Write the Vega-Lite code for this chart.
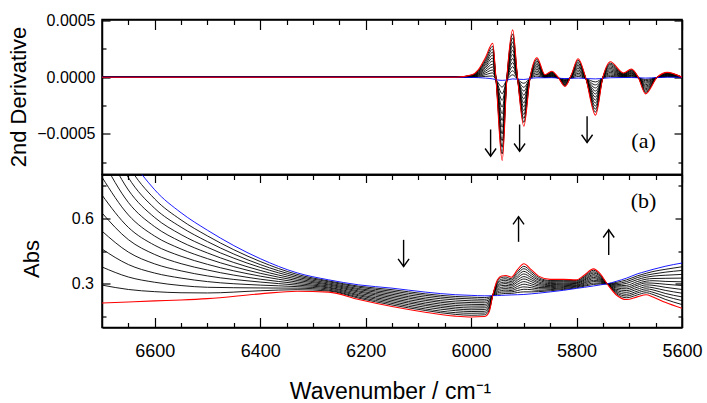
{
"$schema": "https://vega.github.io/schema/vega-lite/v6.json",
"background": "white",
"padding": {"left": 6, "top": 11.5, "right": 5, "bottom": 5},
"datasets": {
"deriv": [
{"s":0,"x":6700,"y":0},{"s":0,"x":6030,"y":0},{"s":0,"x":5998,"y":-2e-6},{"s":0,"x":5986,"y":-4e-6},{"s":0,"x":5973,"y":-8e-6},{"s":0,"x":5959,"y":-15e-6},{"s":0,"x":5953,"y":-22e-6},{"s":0,"x":5941,"y":-28e-6},{"s":0,"x":5932,"y":-25e-6},{"s":0,"x":5921,"y":-15e-6},{"s":0,"x":5912,"y":-18e-6},{"s":0,"x":5900,"y":-20e-6},{"s":0,"x":5888,"y":-12e-6},{"s":0,"x":5875,"y":-5e-6},{"s":0,"x":5860,"y":-5e-6},{"s":0,"x":5847,"y":-4e-6},{"s":0,"x":5835,"y":-8e-6},{"s":0,"x":5822,"y":-12e-6},{"s":0,"x":5810,"y":-10e-6},{"s":0,"x":5797,"y":-8e-6},{"s":0,"x":5783,"y":-12e-6},{"s":0,"x":5764,"y":-15e-6},{"s":0,"x":5750,"y":-10e-6},{"s":0,"x":5736,"y":-5e-6},{"s":0,"x":5711,"y":-3e-6},{"s":0,"x":5696,"y":-3e-6},{"s":0,"x":5683,"y":-5e-6},{"s":0,"x":5669,"y":-8e-6},{"s":0,"x":5647,"y":-3e-6},{"s":0,"x":5628,"y":0},{"s":0,"x":5600,"y":0},
{"s":1,"x":6700,"y":0},{"s":1,"x":6030,"y":0},{"s":1,"x":5998,"y":0},{"s":1,"x":5986,"y":2e-6},{"s":1,"x":5973,"y":7e-6},{"s":1,"x":5959,"y":11e-6},{"s":1,"x":5953,"y":-20e-6},{"s":1,"x":5941,"y":-87e-6},{"s":1,"x":5932,"y":-23e-6},{"s":1,"x":5921,"y":21e-6},{"s":1,"x":5912,"y":-17e-6},{"s":1,"x":5900,"y":-54e-6},{"s":1,"x":5888,"y":-11e-6},{"s":1,"x":5875,"y":10e-6},{"s":1,"x":5860,"y":-3e-6},{"s":1,"x":5847,"y":1e-6},{"s":1,"x":5835,"y":-7e-6},{"s":1,"x":5822,"y":-18e-6},{"s":1,"x":5810,"y":-8e-6},{"s":1,"x":5797,"y":6e-6},{"s":1,"x":5783,"y":-11e-6},{"s":1,"x":5764,"y":-42e-6},{"s":1,"x":5750,"y":-9e-6},{"s":1,"x":5736,"y":7e-6},{"s":1,"x":5711,"y":0},{"s":1,"x":5696,"y":3e-6},{"s":1,"x":5683,"y":-5e-6},{"s":1,"x":5669,"y":-20e-6},{"s":1,"x":5647,"y":-3e-6},{"s":1,"x":5628,"y":4e-6},{"s":1,"x":5600,"y":0},
{"s":2,"x":6700,"y":0},{"s":2,"x":6030,"y":0},{"s":2,"x":5998,"y":2e-6},{"s":2,"x":5986,"y":8e-6},{"s":2,"x":5973,"y":22e-6},{"s":2,"x":5959,"y":38e-6},{"s":2,"x":5953,"y":-18e-6},{"s":2,"x":5941,"y":-146e-6},{"s":2,"x":5932,"y":-21e-6},{"s":2,"x":5921,"y":57e-6},{"s":2,"x":5912,"y":-15e-6},{"s":2,"x":5900,"y":-89e-6},{"s":2,"x":5888,"y":-10e-6},{"s":2,"x":5875,"y":24e-6},{"s":2,"x":5860,"y":0},{"s":2,"x":5847,"y":5e-6},{"s":2,"x":5835,"y":-7e-6},{"s":2,"x":5822,"y":-24e-6},{"s":2,"x":5810,"y":-5e-6},{"s":2,"x":5797,"y":21e-6},{"s":2,"x":5783,"y":-10e-6},{"s":2,"x":5764,"y":-68e-6},{"s":2,"x":5750,"y":-8e-6},{"s":2,"x":5736,"y":18e-6},{"s":2,"x":5711,"y":4e-6},{"s":2,"x":5696,"y":10e-6},{"s":2,"x":5683,"y":-4e-6},{"s":2,"x":5669,"y":-31e-6},{"s":2,"x":5647,"y":-3e-6},{"s":2,"x":5628,"y":7e-6},{"s":2,"x":5600,"y":0},
{"s":3,"x":6700,"y":0},{"s":3,"x":6030,"y":0},{"s":3,"x":5998,"y":4e-6},{"s":3,"x":5986,"y":14e-6},{"s":3,"x":5973,"y":37e-6},{"s":3,"x":5959,"y":64e-6},{"s":3,"x":5953,"y":-17e-6},{"s":3,"x":5941,"y":-205e-6},{"s":3,"x":5932,"y":-19e-6},{"s":3,"x":5921,"y":93e-6},{"s":3,"x":5912,"y":-14e-6},{"s":3,"x":5900,"y":-123e-6},{"s":3,"x":5888,"y":-9e-6},{"s":3,"x":5875,"y":39e-6},{"s":3,"x":5860,"y":2e-6},{"s":3,"x":5847,"y":10e-6},{"s":3,"x":5835,"y":-6e-6},{"s":3,"x":5822,"y":-30e-6},{"s":3,"x":5810,"y":-3e-6},{"s":3,"x":5797,"y":35e-6},{"s":3,"x":5783,"y":-9e-6},{"s":3,"x":5764,"y":-95e-6},{"s":3,"x":5750,"y":-7e-6},{"s":3,"x":5736,"y":30e-6},{"s":3,"x":5711,"y":7e-6},{"s":3,"x":5696,"y":16e-6},{"s":3,"x":5683,"y":-4e-6},{"s":3,"x":5669,"y":-43e-6},{"s":3,"x":5647,"y":-2e-6},{"s":3,"x":5628,"y":11e-6},{"s":3,"x":5600,"y":0},
{"s":4,"x":6700,"y":0},{"s":4,"x":6030,"y":0},{"s":4,"x":5998,"y":6e-6},{"s":4,"x":5986,"y":20e-6},{"s":4,"x":5973,"y":52e-6},{"s":4,"x":5959,"y":90e-6},{"s":4,"x":5953,"y":-15e-6},{"s":4,"x":5941,"y":-264e-6},{"s":4,"x":5932,"y":-17e-6},{"s":4,"x":5921,"y":129e-6},{"s":4,"x":5912,"y":-12e-6},{"s":4,"x":5900,"y":-158e-6},{"s":4,"x":5888,"y":-8e-6},{"s":4,"x":5875,"y":54e-6},{"s":4,"x":5860,"y":4e-6},{"s":4,"x":5847,"y":15e-6},{"s":4,"x":5835,"y":-5e-6},{"s":4,"x":5822,"y":-35e-6},{"s":4,"x":5810,"y":0},{"s":4,"x":5797,"y":49e-6},{"s":4,"x":5783,"y":-8e-6},{"s":4,"x":5764,"y":-122e-6},{"s":4,"x":5750,"y":-7e-6},{"s":4,"x":5736,"y":42e-6},{"s":4,"x":5711,"y":10e-6},{"s":4,"x":5696,"y":22e-6},{"s":4,"x":5683,"y":-3e-6},{"s":4,"x":5669,"y":-54e-6},{"s":4,"x":5647,"y":-2e-6},{"s":4,"x":5628,"y":14e-6},{"s":4,"x":5600,"y":0},
{"s":5,"x":6700,"y":0},{"s":5,"x":6030,"y":0},{"s":5,"x":5998,"y":8e-6},{"s":5,"x":5986,"y":26e-6},{"s":5,"x":5973,"y":67e-6},{"s":5,"x":5959,"y":116e-6},{"s":5,"x":5953,"y":-13e-6},{"s":5,"x":5941,"y":-323e-6},{"s":5,"x":5932,"y":-15e-6},{"s":5,"x":5921,"y":165e-6},{"s":5,"x":5912,"y":-11e-6},{"s":5,"x":5900,"y":-192e-6},{"s":5,"x":5888,"y":-7e-6},{"s":5,"x":5875,"y":68e-6},{"s":5,"x":5860,"y":6e-6},{"s":5,"x":5847,"y":19e-6},{"s":5,"x":5835,"y":-5e-6},{"s":5,"x":5822,"y":-41e-6},{"s":5,"x":5810,"y":3e-6},{"s":5,"x":5797,"y":63e-6},{"s":5,"x":5783,"y":-7e-6},{"s":5,"x":5764,"y":-148e-6},{"s":5,"x":5750,"y":-6e-6},{"s":5,"x":5736,"y":54e-6},{"s":5,"x":5711,"y":14e-6},{"s":5,"x":5696,"y":29e-6},{"s":5,"x":5683,"y":-3e-6},{"s":5,"x":5669,"y":-66e-6},{"s":5,"x":5647,"y":-2e-6},{"s":5,"x":5628,"y":18e-6},{"s":5,"x":5600,"y":0},
{"s":6,"x":6700,"y":0},{"s":6,"x":6030,"y":0},{"s":6,"x":5998,"y":10e-6},{"s":6,"x":5986,"y":32e-6},{"s":6,"x":5973,"y":82e-6},{"s":6,"x":5959,"y":143e-6},{"s":6,"x":5953,"y":-11e-6},{"s":6,"x":5941,"y":-383e-6},{"s":6,"x":5932,"y":-13e-6},{"s":6,"x":5921,"y":202e-6},{"s":6,"x":5912,"y":-9e-6},{"s":6,"x":5900,"y":-227e-6},{"s":6,"x":5888,"y":-6e-6},{"s":6,"x":5875,"y":83e-6},{"s":6,"x":5860,"y":8e-6},{"s":6,"x":5847,"y":24e-6},{"s":6,"x":5835,"y":-4e-6},{"s":6,"x":5822,"y":-47e-6},{"s":6,"x":5810,"y":5e-6},{"s":6,"x":5797,"y":78e-6},{"s":6,"x":5783,"y":-6e-6},{"s":6,"x":5764,"y":-175e-6},{"s":6,"x":5750,"y":-5e-6},{"s":6,"x":5736,"y":66e-6},{"s":6,"x":5711,"y":17e-6},{"s":6,"x":5696,"y":35e-6},{"s":6,"x":5683,"y":-2e-6},{"s":6,"x":5669,"y":-78e-6},{"s":6,"x":5647,"y":-2e-6},{"s":6,"x":5628,"y":22e-6},{"s":6,"x":5600,"y":0},
{"s":7,"x":6700,"y":0},{"s":7,"x":6030,"y":0},{"s":7,"x":5998,"y":12e-6},{"s":7,"x":5986,"y":37e-6},{"s":7,"x":5973,"y":96e-6},{"s":7,"x":5959,"y":169e-6},{"s":7,"x":5953,"y":-9e-6},{"s":7,"x":5941,"y":-442e-6},{"s":7,"x":5932,"y":-10e-6},{"s":7,"x":5921,"y":238e-6},{"s":7,"x":5912,"y":-8e-6},{"s":7,"x":5900,"y":-261e-6},{"s":7,"x":5888,"y":-5e-6},{"s":7,"x":5875,"y":98e-6},{"s":7,"x":5860,"y":11e-6},{"s":7,"x":5847,"y":29e-6},{"s":7,"x":5835,"y":-3e-6},{"s":7,"x":5822,"y":-53e-6},{"s":7,"x":5810,"y":8e-6},{"s":7,"x":5797,"y":92e-6},{"s":7,"x":5783,"y":-5e-6},{"s":7,"x":5764,"y":-202e-6},{"s":7,"x":5750,"y":-4e-6},{"s":7,"x":5736,"y":77e-6},{"s":7,"x":5711,"y":20e-6},{"s":7,"x":5696,"y":41e-6},{"s":7,"x":5683,"y":-2e-6},{"s":7,"x":5669,"y":-89e-6},{"s":7,"x":5647,"y":-1e-6},{"s":7,"x":5628,"y":25e-6},{"s":7,"x":5600,"y":0},
{"s":8,"x":6700,"y":0},{"s":8,"x":6030,"y":0},{"s":8,"x":5998,"y":14e-6},{"s":8,"x":5986,"y":43e-6},{"s":8,"x":5973,"y":111e-6},{"s":8,"x":5959,"y":195e-6},{"s":8,"x":5953,"y":-7e-6},{"s":8,"x":5941,"y":-501e-6},{"s":8,"x":5932,"y":-8e-6},{"s":8,"x":5921,"y":274e-6},{"s":8,"x":5912,"y":-6e-6},{"s":8,"x":5900,"y":-295e-6},{"s":8,"x":5888,"y":-4e-6},{"s":8,"x":5875,"y":112e-6},{"s":8,"x":5860,"y":13e-6},{"s":8,"x":5847,"y":33e-6},{"s":8,"x":5835,"y":-3e-6},{"s":8,"x":5822,"y":-59e-6},{"s":8,"x":5810,"y":10e-6},{"s":8,"x":5797,"y":106e-6},{"s":8,"x":5783,"y":-4e-6},{"s":8,"x":5764,"y":-228e-6},{"s":8,"x":5750,"y":-3e-6},{"s":8,"x":5736,"y":89e-6},{"s":8,"x":5711,"y":24e-6},{"s":8,"x":5696,"y":48e-6},{"s":8,"x":5683,"y":-2e-6},{"s":8,"x":5669,"y":-101e-6},{"s":8,"x":5647,"y":-1e-6},{"s":8,"x":5628,"y":29e-6},{"s":8,"x":5600,"y":0},
{"s":9,"x":6700,"y":0},{"s":9,"x":6030,"y":0},{"s":9,"x":5998,"y":16e-6},{"s":9,"x":5986,"y":49e-6},{"s":9,"x":5973,"y":126e-6},{"s":9,"x":5959,"y":221e-6},{"s":9,"x":5953,"y":-6e-6},{"s":9,"x":5941,"y":-560e-6},{"s":9,"x":5932,"y":-6e-6},{"s":9,"x":5921,"y":310e-6},{"s":9,"x":5912,"y":-5e-6},{"s":9,"x":5900,"y":-330e-6},{"s":9,"x":5888,"y":-3e-6},{"s":9,"x":5875,"y":127e-6},{"s":9,"x":5860,"y":15e-6},{"s":9,"x":5847,"y":38e-6},{"s":9,"x":5835,"y":-2e-6},{"s":9,"x":5822,"y":-65e-6},{"s":9,"x":5810,"y":13e-6},{"s":9,"x":5797,"y":120e-6},{"s":9,"x":5783,"y":-3e-6},{"s":9,"x":5764,"y":-255e-6},{"s":9,"x":5750,"y":-2e-6},{"s":9,"x":5736,"y":101e-6},{"s":9,"x":5711,"y":27e-6},{"s":9,"x":5696,"y":54e-6},{"s":9,"x":5683,"y":-1e-6},{"s":9,"x":5669,"y":-112e-6},{"s":9,"x":5647,"y":-1e-6},{"s":9,"x":5628,"y":32e-6},{"s":9,"x":5600,"y":0},
{"s":10,"x":6700,"y":0},{"s":10,"x":6030,"y":0},{"s":10,"x":5998,"y":18e-6},{"s":10,"x":5986,"y":55e-6},{"s":10,"x":5973,"y":141e-6},{"s":10,"x":5959,"y":248e-6},{"s":10,"x":5953,"y":-4e-6},{"s":10,"x":5941,"y":-619e-6},{"s":10,"x":5932,"y":-4e-6},{"s":10,"x":5921,"y":346e-6},{"s":10,"x":5912,"y":-3e-6},{"s":10,"x":5900,"y":-364e-6},{"s":10,"x":5888,"y":-2e-6},{"s":10,"x":5875,"y":142e-6},{"s":10,"x":5860,"y":18e-6},{"s":10,"x":5847,"y":43e-6},{"s":10,"x":5835,"y":-1e-6},{"s":10,"x":5822,"y":-70e-6},{"s":10,"x":5810,"y":15e-6},{"s":10,"x":5797,"y":135e-6},{"s":10,"x":5783,"y":-2e-6},{"s":10,"x":5764,"y":-282e-6},{"s":10,"x":5750,"y":-2e-6},{"s":10,"x":5736,"y":113e-6},{"s":10,"x":5711,"y":30e-6},{"s":10,"x":5696,"y":60e-6},{"s":10,"x":5683,"y":-1e-6},{"s":10,"x":5669,"y":-124e-6},{"s":10,"x":5647,"y":-1e-6},{"s":10,"x":5628,"y":36e-6},{"s":10,"x":5600,"y":0},
{"s":11,"x":6700,"y":0},{"s":11,"x":6030,"y":0},{"s":11,"x":5998,"y":20e-6},{"s":11,"x":5986,"y":61e-6},{"s":11,"x":5973,"y":156e-6},{"s":11,"x":5959,"y":274e-6},{"s":11,"x":5953,"y":-2e-6},{"s":11,"x":5941,"y":-678e-6},{"s":11,"x":5932,"y":-2e-6},{"s":11,"x":5921,"y":382e-6},{"s":11,"x":5912,"y":-2e-6},{"s":11,"x":5900,"y":-399e-6},{"s":11,"x":5888,"y":-1e-6},{"s":11,"x":5875,"y":156e-6},{"s":11,"x":5860,"y":20e-6},{"s":11,"x":5847,"y":47e-6},{"s":11,"x":5835,"y":-1e-6},{"s":11,"x":5822,"y":-76e-6},{"s":11,"x":5810,"y":18e-6},{"s":11,"x":5797,"y":149e-6},{"s":11,"x":5783,"y":-1e-6},{"s":11,"x":5764,"y":-308e-6},{"s":11,"x":5750,"y":-1e-6},{"s":11,"x":5736,"y":124e-6},{"s":11,"x":5711,"y":34e-6},{"s":11,"x":5696,"y":67e-6},{"s":11,"x":5683,"y":0},{"s":11,"x":5669,"y":-135e-6},{"s":11,"x":5647,"y":0},{"s":11,"x":5628,"y":39e-6},{"s":11,"x":5600,"y":0},
{"s":12,"x":6700,"y":0},{"s":12,"x":6030,"y":0},{"s":12,"x":5998,"y":22e-6},{"s":12,"x":5986,"y":67e-6},{"s":12,"x":5973,"y":171e-6},{"s":12,"x":5959,"y":300e-6},{"s":12,"x":5953,"y":0},{"s":12,"x":5941,"y":-737e-6},{"s":12,"x":5932,"y":0},{"s":12,"x":5921,"y":418e-6},{"s":12,"x":5912,"y":0},{"s":12,"x":5900,"y":-433e-6},{"s":12,"x":5888,"y":0},{"s":12,"x":5875,"y":171e-6},{"s":12,"x":5860,"y":22e-6},{"s":12,"x":5847,"y":52e-6},{"s":12,"x":5835,"y":0},{"s":12,"x":5822,"y":-82e-6},{"s":12,"x":5810,"y":20e-6},{"s":12,"x":5797,"y":163e-6},{"s":12,"x":5783,"y":0},{"s":12,"x":5764,"y":-335e-6},{"s":12,"x":5750,"y":0},{"s":12,"x":5736,"y":136e-6},{"s":12,"x":5711,"y":37e-6},{"s":12,"x":5696,"y":73e-6},{"s":12,"x":5683,"y":0},{"s":12,"x":5669,"y":-147e-6},{"s":12,"x":5647,"y":0},{"s":12,"x":5628,"y":43e-6},{"s":12,"x":5600,"y":0}
],
"abs": [
{"s":0,"x":6700,"y":1.2},{"s":0,"x":6650,"y":0.9},{"s":0,"x":6600,"y":0.73},{"s":0,"x":6550,"y":0.625},{"s":0,"x":6500,"y":0.545},{"s":0,"x":6400,"y":0.415},{"s":0,"x":6330,"y":0.35},{"s":0,"x":6270,"y":0.318},{"s":0,"x":6213,"y":0.295},{"s":0,"x":6150,"y":0.28},{"s":0,"x":6087,"y":0.262},{"s":0,"x":6030,"y":0.25},{"s":0,"x":6000,"y":0.247},{"s":0,"x":5975,"y":0.245},{"s":0,"x":5966,"y":0.245},{"s":0,"x":5959,"y":0.246},{"s":0,"x":5950,"y":0.246},{"s":0,"x":5942,"y":0.247},{"s":0,"x":5934,"y":0.248},{"s":0,"x":5924,"y":0.249},{"s":0,"x":5912,"y":0.25},{"s":0,"x":5900,"y":0.251},{"s":0,"x":5886,"y":0.254},{"s":0,"x":5872,"y":0.257},{"s":0,"x":5850,"y":0.263},{"s":0,"x":5825,"y":0.27},{"s":0,"x":5800,"y":0.279},{"s":0,"x":5785,"y":0.284},{"s":0,"x":5768,"y":0.29},{"s":0,"x":5755,"y":0.295},{"s":0,"x":5742,"y":0.3},{"s":0,"x":5725,"y":0.311},{"s":0,"x":5705,"y":0.326},{"s":0,"x":5685,"y":0.345},{"s":0,"x":5668,"y":0.357},{"s":0,"x":5655,"y":0.366},{"s":0,"x":5632,"y":0.38},{"s":0,"x":5600,"y":0.395},
{"s":1,"x":6700,"y":1.118},{"s":1,"x":6650,"y":0.843},{"s":1,"x":6600,"y":0.688},{"s":1,"x":6550,"y":0.592},{"s":1,"x":6500,"y":0.519},{"s":1,"x":6400,"y":0.402},{"s":1,"x":6330,"y":0.343},{"s":1,"x":6270,"y":0.313},{"s":1,"x":6213,"y":0.289},{"s":1,"x":6150,"y":0.273},{"s":1,"x":6087,"y":0.254},{"s":1,"x":6030,"y":0.242},{"s":1,"x":6000,"y":0.239},{"s":1,"x":5975,"y":0.237},{"s":1,"x":5966,"y":0.239},{"s":1,"x":5959,"y":0.246},{"s":1,"x":5950,"y":0.252},{"s":1,"x":5942,"y":0.254},{"s":1,"x":5934,"y":0.256},{"s":1,"x":5924,"y":0.256},{"s":1,"x":5912,"y":0.26},{"s":1,"x":5900,"y":0.263},{"s":1,"x":5886,"y":0.263},{"s":1,"x":5872,"y":0.264},{"s":1,"x":5850,"y":0.268},{"s":1,"x":5825,"y":0.274},{"s":1,"x":5800,"y":0.282},{"s":1,"x":5785,"y":0.289},{"s":1,"x":5768,"y":0.297},{"s":1,"x":5755,"y":0.299},{"s":1,"x":5742,"y":0.3},{"s":1,"x":5725,"y":0.306},{"s":1,"x":5705,"y":0.318},{"s":1,"x":5685,"y":0.336},{"s":1,"x":5668,"y":0.348},{"s":1,"x":5655,"y":0.356},{"s":1,"x":5632,"y":0.366},{"s":1,"x":5600,"y":0.378},
{"s":2,"x":6700,"y":1.035},{"s":2,"x":6650,"y":0.786},{"s":2,"x":6600,"y":0.645},{"s":2,"x":6550,"y":0.559},{"s":2,"x":6500,"y":0.493},{"s":2,"x":6400,"y":0.388},{"s":2,"x":6330,"y":0.336},{"s":2,"x":6270,"y":0.309},{"s":2,"x":6213,"y":0.284},{"s":2,"x":6150,"y":0.266},{"s":2,"x":6087,"y":0.247},{"s":2,"x":6030,"y":0.234},{"s":2,"x":6000,"y":0.231},{"s":2,"x":5975,"y":0.229},{"s":2,"x":5966,"y":0.233},{"s":2,"x":5959,"y":0.246},{"s":2,"x":5950,"y":0.258},{"s":2,"x":5942,"y":0.262},{"s":2,"x":5934,"y":0.263},{"s":2,"x":5924,"y":0.263},{"s":2,"x":5912,"y":0.269},{"s":2,"x":5900,"y":0.275},{"s":2,"x":5886,"y":0.273},{"s":2,"x":5872,"y":0.27},{"s":2,"x":5850,"y":0.273},{"s":2,"x":5825,"y":0.278},{"s":2,"x":5800,"y":0.286},{"s":2,"x":5785,"y":0.293},{"s":2,"x":5768,"y":0.303},{"s":2,"x":5755,"y":0.303},{"s":2,"x":5742,"y":0.3},{"s":2,"x":5725,"y":0.301},{"s":2,"x":5705,"y":0.31},{"s":2,"x":5685,"y":0.328},{"s":2,"x":5668,"y":0.339},{"s":2,"x":5655,"y":0.345},{"s":2,"x":5632,"y":0.353},{"s":2,"x":5600,"y":0.361},
{"s":3,"x":6700,"y":0.953},{"s":3,"x":6650,"y":0.729},{"s":3,"x":6600,"y":0.603},{"s":3,"x":6550,"y":0.525},{"s":3,"x":6500,"y":0.467},{"s":3,"x":6400,"y":0.375},{"s":3,"x":6330,"y":0.329},{"s":3,"x":6270,"y":0.304},{"s":3,"x":6213,"y":0.278},{"s":3,"x":6150,"y":0.259},{"s":3,"x":6087,"y":0.239},{"s":3,"x":6030,"y":0.226},{"s":3,"x":6000,"y":0.222},{"s":3,"x":5975,"y":0.221},{"s":3,"x":5966,"y":0.226},{"s":3,"x":5959,"y":0.246},{"s":3,"x":5950,"y":0.264},{"s":3,"x":5942,"y":0.269},{"s":3,"x":5934,"y":0.271},{"s":3,"x":5924,"y":0.269},{"s":3,"x":5912,"y":0.279},{"s":3,"x":5900,"y":0.286},{"s":3,"x":5886,"y":0.282},{"s":3,"x":5872,"y":0.277},{"s":3,"x":5850,"y":0.277},{"s":3,"x":5825,"y":0.283},{"s":3,"x":5800,"y":0.289},{"s":3,"x":5785,"y":0.298},{"s":3,"x":5768,"y":0.31},{"s":3,"x":5755,"y":0.308},{"s":3,"x":5742,"y":0.3},{"s":3,"x":5725,"y":0.296},{"s":3,"x":5705,"y":0.302},{"s":3,"x":5685,"y":0.319},{"s":3,"x":5668,"y":0.33},{"s":3,"x":5655,"y":0.335},{"s":3,"x":5632,"y":0.339},{"s":3,"x":5600,"y":0.343},
{"s":4,"x":6700,"y":0.871},{"s":4,"x":6650,"y":0.672},{"s":4,"x":6600,"y":0.561},{"s":4,"x":6550,"y":0.492},{"s":4,"x":6500,"y":0.441},{"s":4,"x":6400,"y":0.361},{"s":4,"x":6330,"y":0.322},{"s":4,"x":6270,"y":0.299},{"s":4,"x":6213,"y":0.273},{"s":4,"x":6150,"y":0.252},{"s":4,"x":6087,"y":0.231},{"s":4,"x":6030,"y":0.217},{"s":4,"x":6000,"y":0.214},{"s":4,"x":5975,"y":0.213},{"s":4,"x":5966,"y":0.22},{"s":4,"x":5959,"y":0.246},{"s":4,"x":5950,"y":0.27},{"s":4,"x":5942,"y":0.277},{"s":4,"x":5934,"y":0.278},{"s":4,"x":5924,"y":0.276},{"s":4,"x":5912,"y":0.288},{"s":4,"x":5900,"y":0.298},{"s":4,"x":5886,"y":0.291},{"s":4,"x":5872,"y":0.283},{"s":4,"x":5850,"y":0.282},{"s":4,"x":5825,"y":0.287},{"s":4,"x":5800,"y":0.292},{"s":4,"x":5785,"y":0.303},{"s":4,"x":5768,"y":0.316},{"s":4,"x":5755,"y":0.312},{"s":4,"x":5742,"y":0.3},{"s":4,"x":5725,"y":0.291},{"s":4,"x":5705,"y":0.293},{"s":4,"x":5685,"y":0.31},{"s":4,"x":5668,"y":0.321},{"s":4,"x":5655,"y":0.324},{"s":4,"x":5632,"y":0.325},{"s":4,"x":5600,"y":0.326},
{"s":5,"x":6700,"y":0.788},{"s":5,"x":6650,"y":0.615},{"s":5,"x":6600,"y":0.518},{"s":5,"x":6550,"y":0.459},{"s":5,"x":6500,"y":0.415},{"s":5,"x":6400,"y":0.348},{"s":5,"x":6330,"y":0.315},{"s":5,"x":6270,"y":0.295},{"s":5,"x":6213,"y":0.267},{"s":5,"x":6150,"y":0.245},{"s":5,"x":6087,"y":0.224},{"s":5,"x":6030,"y":0.209},{"s":5,"x":6000,"y":0.206},{"s":5,"x":5975,"y":0.205},{"s":5,"x":5966,"y":0.214},{"s":5,"x":5959,"y":0.246},{"s":5,"x":5950,"y":0.276},{"s":5,"x":5942,"y":0.284},{"s":5,"x":5934,"y":0.286},{"s":5,"x":5924,"y":0.283},{"s":5,"x":5912,"y":0.298},{"s":5,"x":5900,"y":0.31},{"s":5,"x":5886,"y":0.3},{"s":5,"x":5872,"y":0.29},{"s":5,"x":5850,"y":0.287},{"s":5,"x":5825,"y":0.291},{"s":5,"x":5800,"y":0.295},{"s":5,"x":5785,"y":0.307},{"s":5,"x":5768,"y":0.323},{"s":5,"x":5755,"y":0.316},{"s":5,"x":5742,"y":0.3},{"s":5,"x":5725,"y":0.286},{"s":5,"x":5705,"y":0.285},{"s":5,"x":5685,"y":0.301},{"s":5,"x":5668,"y":0.312},{"s":5,"x":5655,"y":0.314},{"s":5,"x":5632,"y":0.311},{"s":5,"x":5600,"y":0.309},
{"s":6,"x":6700,"y":0.706},{"s":6,"x":6650,"y":0.558},{"s":6,"x":6600,"y":0.476},{"s":6,"x":6550,"y":0.426},{"s":6,"x":6500,"y":0.389},{"s":6,"x":6400,"y":0.335},{"s":6,"x":6330,"y":0.308},{"s":6,"x":6270,"y":0.29},{"s":6,"x":6213,"y":0.262},{"s":6,"x":6150,"y":0.238},{"s":6,"x":6087,"y":0.216},{"s":6,"x":6030,"y":0.201},{"s":6,"x":6000,"y":0.198},{"s":6,"x":5975,"y":0.198},{"s":6,"x":5966,"y":0.208},{"s":6,"x":5959,"y":0.246},{"s":6,"x":5950,"y":0.282},{"s":6,"x":5942,"y":0.292},{"s":6,"x":5934,"y":0.293},{"s":6,"x":5924,"y":0.29},{"s":6,"x":5912,"y":0.308},{"s":6,"x":5900,"y":0.322},{"s":6,"x":5886,"y":0.31},{"s":6,"x":5872,"y":0.296},{"s":6,"x":5850,"y":0.292},{"s":6,"x":5825,"y":0.295},{"s":6,"x":5800,"y":0.299},{"s":6,"x":5785,"y":0.312},{"s":6,"x":5768,"y":0.329},{"s":6,"x":5755,"y":0.32},{"s":6,"x":5742,"y":0.3},{"s":6,"x":5725,"y":0.281},{"s":6,"x":5705,"y":0.277},{"s":6,"x":5685,"y":0.293},{"s":6,"x":5668,"y":0.304},{"s":6,"x":5655,"y":0.303},{"s":6,"x":5632,"y":0.298},{"s":6,"x":5600,"y":0.292},
{"s":7,"x":6700,"y":0.624},{"s":7,"x":6650,"y":0.502},{"s":7,"x":6600,"y":0.434},{"s":7,"x":6550,"y":0.392},{"s":7,"x":6500,"y":0.363},{"s":7,"x":6400,"y":0.321},{"s":7,"x":6330,"y":0.301},{"s":7,"x":6270,"y":0.285},{"s":7,"x":6213,"y":0.256},{"s":7,"x":6150,"y":0.231},{"s":7,"x":6087,"y":0.208},{"s":7,"x":6030,"y":0.193},{"s":7,"x":6000,"y":0.189},{"s":7,"x":5975,"y":0.19},{"s":7,"x":5966,"y":0.201},{"s":7,"x":5959,"y":0.246},{"s":7,"x":5950,"y":0.288},{"s":7,"x":5942,"y":0.299},{"s":7,"x":5934,"y":0.301},{"s":7,"x":5924,"y":0.296},{"s":7,"x":5912,"y":0.317},{"s":7,"x":5900,"y":0.333},{"s":7,"x":5886,"y":0.319},{"s":7,"x":5872,"y":0.303},{"s":7,"x":5850,"y":0.296},{"s":7,"x":5825,"y":0.299},{"s":7,"x":5800,"y":0.302},{"s":7,"x":5785,"y":0.317},{"s":7,"x":5768,"y":0.336},{"s":7,"x":5755,"y":0.324},{"s":7,"x":5742,"y":0.3},{"s":7,"x":5725,"y":0.275},{"s":7,"x":5705,"y":0.269},{"s":7,"x":5685,"y":0.284},{"s":7,"x":5668,"y":0.295},{"s":7,"x":5655,"y":0.293},{"s":7,"x":5632,"y":0.284},{"s":7,"x":5600,"y":0.274},
{"s":8,"x":6700,"y":0.541},{"s":8,"x":6650,"y":0.445},{"s":8,"x":6600,"y":0.391},{"s":8,"x":6550,"y":0.359},{"s":8,"x":6500,"y":0.336},{"s":8,"x":6400,"y":0.308},{"s":8,"x":6330,"y":0.294},{"s":8,"x":6270,"y":0.281},{"s":8,"x":6213,"y":0.25},{"s":8,"x":6150,"y":0.224},{"s":8,"x":6087,"y":0.201},{"s":8,"x":6030,"y":0.185},{"s":8,"x":6000,"y":0.181},{"s":8,"x":5975,"y":0.182},{"s":8,"x":5966,"y":0.195},{"s":8,"x":5959,"y":0.246},{"s":8,"x":5950,"y":0.294},{"s":8,"x":5942,"y":0.306},{"s":8,"x":5934,"y":0.308},{"s":8,"x":5924,"y":0.303},{"s":8,"x":5912,"y":0.327},{"s":8,"x":5900,"y":0.345},{"s":8,"x":5886,"y":0.328},{"s":8,"x":5872,"y":0.309},{"s":8,"x":5850,"y":0.301},{"s":8,"x":5825,"y":0.303},{"s":8,"x":5800,"y":0.305},{"s":8,"x":5785,"y":0.321},{"s":8,"x":5768,"y":0.342},{"s":8,"x":5755,"y":0.328},{"s":8,"x":5742,"y":0.3},{"s":8,"x":5725,"y":0.27},{"s":8,"x":5705,"y":0.261},{"s":8,"x":5685,"y":0.275},{"s":8,"x":5668,"y":0.286},{"s":8,"x":5655,"y":0.282},{"s":8,"x":5632,"y":0.27},{"s":8,"x":5600,"y":0.257},
{"s":9,"x":6700,"y":0.459},{"s":9,"x":6650,"y":0.388},{"s":9,"x":6600,"y":0.349},{"s":9,"x":6550,"y":0.326},{"s":9,"x":6500,"y":0.31},{"s":9,"x":6400,"y":0.294},{"s":9,"x":6330,"y":0.287},{"s":9,"x":6270,"y":0.276},{"s":9,"x":6213,"y":0.245},{"s":9,"x":6150,"y":0.217},{"s":9,"x":6087,"y":0.193},{"s":9,"x":6030,"y":0.177},{"s":9,"x":6000,"y":0.173},{"s":9,"x":5975,"y":0.174},{"s":9,"x":5966,"y":0.189},{"s":9,"x":5959,"y":0.246},{"s":9,"x":5950,"y":0.3},{"s":9,"x":5942,"y":0.314},{"s":9,"x":5934,"y":0.316},{"s":9,"x":5924,"y":0.31},{"s":9,"x":5912,"y":0.336},{"s":9,"x":5900,"y":0.357},{"s":9,"x":5886,"y":0.337},{"s":9,"x":5872,"y":0.316},{"s":9,"x":5850,"y":0.306},{"s":9,"x":5825,"y":0.308},{"s":9,"x":5800,"y":0.308},{"s":9,"x":5785,"y":0.326},{"s":9,"x":5768,"y":0.349},{"s":9,"x":5755,"y":0.333},{"s":9,"x":5742,"y":0.3},{"s":9,"x":5725,"y":0.265},{"s":9,"x":5705,"y":0.252},{"s":9,"x":5685,"y":0.266},{"s":9,"x":5668,"y":0.277},{"s":9,"x":5655,"y":0.272},{"s":9,"x":5632,"y":0.256},{"s":9,"x":5600,"y":0.24},
{"s":10,"x":6700,"y":0.377},{"s":10,"x":6650,"y":0.331},{"s":10,"x":6600,"y":0.307},{"s":10,"x":6550,"y":0.292},{"s":10,"x":6500,"y":0.284},{"s":10,"x":6400,"y":0.281},{"s":10,"x":6330,"y":0.28},{"s":10,"x":6270,"y":0.271},{"s":10,"x":6213,"y":0.239},{"s":10,"x":6150,"y":0.21},{"s":10,"x":6087,"y":0.185},{"s":10,"x":6030,"y":0.168},{"s":10,"x":6000,"y":0.165},{"s":10,"x":5975,"y":0.166},{"s":10,"x":5966,"y":0.183},{"s":10,"x":5959,"y":0.246},{"s":10,"x":5950,"y":0.306},{"s":10,"x":5942,"y":0.321},{"s":10,"x":5934,"y":0.323},{"s":10,"x":5924,"y":0.317},{"s":10,"x":5912,"y":0.346},{"s":10,"x":5900,"y":0.369},{"s":10,"x":5886,"y":0.347},{"s":10,"x":5872,"y":0.322},{"s":10,"x":5850,"y":0.311},{"s":10,"x":5825,"y":0.312},{"s":10,"x":5800,"y":0.312},{"s":10,"x":5785,"y":0.331},{"s":10,"x":5768,"y":0.355},{"s":10,"x":5755,"y":0.337},{"s":10,"x":5742,"y":0.3},{"s":10,"x":5725,"y":0.26},{"s":10,"x":5705,"y":0.244},{"s":10,"x":5685,"y":0.258},{"s":10,"x":5668,"y":0.268},{"s":10,"x":5655,"y":0.261},{"s":10,"x":5632,"y":0.243},{"s":10,"x":5600,"y":0.223},
{"s":11,"x":6700,"y":0.294},{"s":11,"x":6650,"y":0.274},{"s":11,"x":6600,"y":0.264},{"s":11,"x":6550,"y":0.259},{"s":11,"x":6500,"y":0.258},{"s":11,"x":6400,"y":0.268},{"s":11,"x":6330,"y":0.273},{"s":11,"x":6270,"y":0.267},{"s":11,"x":6213,"y":0.234},{"s":11,"x":6150,"y":0.203},{"s":11,"x":6087,"y":0.178},{"s":11,"x":6030,"y":0.16},{"s":11,"x":6000,"y":0.156},{"s":11,"x":5975,"y":0.158},{"s":11,"x":5966,"y":0.176},{"s":11,"x":5959,"y":0.246},{"s":11,"x":5950,"y":0.312},{"s":11,"x":5942,"y":0.329},{"s":11,"x":5934,"y":0.331},{"s":11,"x":5924,"y":0.323},{"s":11,"x":5912,"y":0.355},{"s":11,"x":5900,"y":0.38},{"s":11,"x":5886,"y":0.356},{"s":11,"x":5872,"y":0.329},{"s":11,"x":5850,"y":0.315},{"s":11,"x":5825,"y":0.316},{"s":11,"x":5800,"y":0.315},{"s":11,"x":5785,"y":0.335},{"s":11,"x":5768,"y":0.362},{"s":11,"x":5755,"y":0.341},{"s":11,"x":5742,"y":0.3},{"s":11,"x":5725,"y":0.255},{"s":11,"x":5705,"y":0.236},{"s":11,"x":5685,"y":0.249},{"s":11,"x":5668,"y":0.259},{"s":11,"x":5655,"y":0.251},{"s":11,"x":5632,"y":0.229},{"s":11,"x":5600,"y":0.205},
{"s":12,"x":6700,"y":0.212},{"s":12,"x":6650,"y":0.217},{"s":12,"x":6600,"y":0.222},{"s":12,"x":6550,"y":0.226},{"s":12,"x":6500,"y":0.232},{"s":12,"x":6400,"y":0.254},{"s":12,"x":6330,"y":0.266},{"s":12,"x":6270,"y":0.262},{"s":12,"x":6213,"y":0.228},{"s":12,"x":6150,"y":0.196},{"s":12,"x":6087,"y":0.17},{"s":12,"x":6030,"y":0.152},{"s":12,"x":6000,"y":0.148},{"s":12,"x":5975,"y":0.15},{"s":12,"x":5966,"y":0.17},{"s":12,"x":5959,"y":0.246},{"s":12,"x":5950,"y":0.318},{"s":12,"x":5942,"y":0.336},{"s":12,"x":5934,"y":0.338},{"s":12,"x":5924,"y":0.33},{"s":12,"x":5912,"y":0.365},{"s":12,"x":5900,"y":0.392},{"s":12,"x":5886,"y":0.365},{"s":12,"x":5872,"y":0.335},{"s":12,"x":5850,"y":0.32},{"s":12,"x":5825,"y":0.32},{"s":12,"x":5800,"y":0.318},{"s":12,"x":5785,"y":0.34},{"s":12,"x":5768,"y":0.368},{"s":12,"x":5755,"y":0.345},{"s":12,"x":5742,"y":0.3},{"s":12,"x":5725,"y":0.25},{"s":12,"x":5705,"y":0.228},{"s":12,"x":5685,"y":0.24},{"s":12,"x":5668,"y":0.25},{"s":12,"x":5655,"y":0.24},{"s":12,"x":5632,"y":0.215},{"s":12,"x":5600,"y":0.188}
],
"arrA": [{"x":5963,"y":-0.000462,"y2":-0.000698,"dir":"down"},{"x":5908,"y":-0.000418,"y2":-0.000654,"dir":"down"},{"x":5780,"y":-0.000345,"y2":-0.000577,"dir":"down"}],
"arrB": [{"x":6128,"y":0.501,"y2":0.379,"dir":"down"},{"x":5910,"y":0.492,"y2":0.607,"dir":"up"},{"x":5739,"y":0.432,"y2":0.547,"dir":"up"}],
"labA": [{"x":5673,"y":-0.000566,"t":"(a)"}],
"labB": [{"x":5673,"y":0.677,"t":"(b)"}]
},
"vconcat": [
{
"width": 580, "height": 155,
"layer": [
{"data": {"name": "deriv"}, "transform": [{"filter": "datum.s > 0 && datum.s < 12"}],
 "mark": {"type": "line", "color": "black", "strokeWidth": 0.9, "interpolate": "monotone", "clip": true},
 "encoding": {
  "x": {"field": "x", "type": "quantitative", "scale": {"domain": [5600, 6700], "reverse": true, "nice": false, "zero": false},
        "axis": {"orient": "bottom", "ticks": false, "labels": false, "title": null}},
  "y": {"field": "y", "type": "quantitative", "scale": {"domain": [-0.00086, 0.00051], "nice": false, "zero": false},
        "axis": {"orient": "left", "values": [-0.00075, -0.0005, -0.00025, 0, 0.00025, 0.0005], "format": ".4f",
                 "tickSize": {"condition": {"test": "round(datum.value*10000) % 5 === 0", "value": -8}, "value": -4},
                 "labelExpr": "round(datum.value*10000) % 5 === 0 ? datum.label : ''",
                 "labelFontSize": 16, "labelPadding": 15,
                 "title": "2nd Derivative", "titleFontSize": 22, "titleX": -77, "titleY": 77, "titleBaseline": "alphabetic", "titleAngle": 270, "titleAlign": "center"}},
  "detail": {"field": "s", "type": "nominal"}
 }},
{"data": {"name": "deriv"}, "transform": [{"filter": "datum.s === 0"}],
 "mark": {"type": "line", "color": "#0000ff", "strokeWidth": 0.9, "interpolate": "monotone", "clip": true},
 "encoding": {
  "x": {"field": "x", "type": "quantitative", "scale": {"domain": [5600, 6700], "reverse": true, "nice": false, "zero": false},
        "axis": {"orient": "top", "values": [6650,6600,6550,6500,6450,6400,6350,6300,6250,6200,6150,6100,6050,6000,5950,5900,5850,5800,5750,5700,5650,5600],
                 "tickSize": {"condition": {"test": "datum.value % 200 === 0", "value": -10}, "value": -5}, "labels": false, "title": null}},
  "y": {"field": "y", "type": "quantitative", "scale": {"domain": [-0.00086, 0.00051], "nice": false, "zero": false},
        "axis": {"orient": "right", "values": [-0.00075, -0.0005, -0.00025, 0, 0.00025, 0.0005],
                 "tickSize": {"condition": {"test": "round(datum.value*10000) % 5 === 0", "value": -8}, "value": -4}, "labels": false, "title": null}}
 }},
{"data": {"name": "deriv"}, "transform": [{"filter": "datum.s === 12"}],
 "mark": {"type": "line", "color": "#ff0000", "strokeWidth": 1.1, "interpolate": "monotone", "clip": true},
 "encoding": {
  "x": {"field": "x", "type": "quantitative", "scale": {"domain": [5600, 6700], "reverse": true, "nice": false, "zero": false}, "axis": null},
  "y": {"field": "y", "type": "quantitative", "scale": {"domain": [-0.00086, 0.00051], "nice": false, "zero": false}, "axis": null}
 }},
{"data": {"name": "arrA"},
 "mark": {"type": "rule", "color": "black", "strokeWidth": 1.4},
 "encoding": {
  "x": {"field": "x", "type": "quantitative", "axis": null},
  "y": {"field": "y", "type": "quantitative", "axis": null},
  "y2": {"field": "y2"}
 }},
{"data": {"name": "arrA"},
 "mark": {"type": "point", "filled": false, "color": "black", "strokeWidth": 1.4, "size": 121, "opacity": 1},
 "encoding": {
  "x": {"field": "x", "type": "quantitative", "axis": null},
  "y": {"field": "y2", "type": "quantitative", "axis": null},
  "shape": {"field": "dir", "type": "nominal", "scale": {"domain": ["down", "up"], "range": ["M-1,-1.4L0,0L1,-1.4", "M-1,1.4L0,0L1,1.4"]}, "legend": null}
 }},
{"data": {"name": "labA"},
 "mark": {"type": "text", "font": "Liberation Serif", "fontSize": 22, "align": "center", "baseline": "middle", "color": "black"},
 "encoding": {
  "x": {"field": "x", "type": "quantitative", "axis": null},
  "y": {"field": "y", "type": "quantitative", "axis": null},
  "text": {"field": "t"}
 }}
],
"resolve": {"axis": {"x": "independent", "y": "independent"}}
},
{
"width": 580, "height": 153,
"layer": [
{"data": {"name": "abs"}, "transform": [{"filter": "datum.s > 0 && datum.s < 12"}],
 "mark": {"type": "line", "color": "black", "strokeWidth": 0.9, "interpolate": "monotone", "clip": true},
 "encoding": {
  "x": {"field": "x", "type": "quantitative", "scale": {"domain": [5600, 6700], "reverse": true, "nice": false, "zero": false},
        "axis": {"orient": "bottom", "values": [6650,6600,6550,6500,6450,6400,6350,6300,6250,6200,6150,6100,6050,6000,5950,5900,5850,5800,5750,5700,5650,5600],
                 "format": "d",
                 "tickSize": {"condition": {"test": "datum.value % 200 === 0", "value": -10}, "value": -5},
                 "labelExpr": "datum.value % 200 === 0 ? datum.label : ''",
                 "labelFontSize": 18, "labelPadding": 25, "labelFlush": false,
                 "title": "Wavenumber / cm⁻¹", "titleFontSize": 23, "titleX": 288, "titleY": 71, "titleBaseline": "alphabetic", "titleAlign": "center"}},
  "y": {"field": "y", "type": "quantitative", "scale": {"domain": [0.1, 0.8], "nice": false, "zero": false},
        "axis": {"orient": "left", "values": [0.15, 0.3, 0.45, 0.6, 0.75], "format": ".1f",
                 "tickSize": {"condition": {"test": "round(datum.value*100) % 30 === 0", "value": -8}, "value": -4},
                 "labelExpr": "round(datum.value*100) % 30 === 0 ? datum.label : ''",
                 "labelFontSize": 16, "labelPadding": 16.5,
                 "title": "Abs", "titleFontSize": 22, "titleX": -63.6, "titleY": 84, "titleBaseline": "alphabetic", "titleAngle": 270, "titleAlign": "center"}},
  "detail": {"field": "s", "type": "nominal"}
 }},
{"data": {"name": "abs"}, "transform": [{"filter": "datum.s === 0"}],
 "mark": {"type": "line", "color": "#0000ff", "strokeWidth": 0.9, "interpolate": "monotone", "clip": true},
 "encoding": {
  "x": {"field": "x", "type": "quantitative", "scale": {"domain": [5600, 6700], "reverse": true, "nice": false, "zero": false},
        "axis": {"orient": "top", "values": [6650,6600,6550,6500,6450,6400,6350,6300,6250,6200,6150,6100,6050,6000,5950,5900,5850,5800,5750,5700,5650,5600],
                 "tickSize": {"condition": {"test": "datum.value % 200 === 0", "value": -8}, "value": -5}, "labels": false, "title": null}},
  "y": {"field": "y", "type": "quantitative", "scale": {"domain": [0.1, 0.8], "nice": false, "zero": false},
        "axis": {"orient": "right", "values": [0.15, 0.3, 0.45, 0.6, 0.75],
                 "tickSize": {"condition": {"test": "round(datum.value*100) % 30 === 0", "value": -7}, "value": -4}, "labels": false, "title": null}}
 }},
{"data": {"name": "abs"}, "transform": [{"filter": "datum.s === 12"}],
 "mark": {"type": "line", "color": "#ff0000", "strokeWidth": 1.1, "interpolate": "monotone", "clip": true},
 "encoding": {
  "x": {"field": "x", "type": "quantitative", "scale": {"domain": [5600, 6700], "reverse": true, "nice": false, "zero": false}, "axis": null},
  "y": {"field": "y", "type": "quantitative", "scale": {"domain": [0.1, 0.8], "nice": false, "zero": false}, "axis": null}
 }},
{"data": {"name": "arrB"},
 "mark": {"type": "rule", "color": "black", "strokeWidth": 1.4},
 "encoding": {
  "x": {"field": "x", "type": "quantitative", "axis": null},
  "y": {"field": "y", "type": "quantitative", "axis": null},
  "y2": {"field": "y2"}
 }},
{"data": {"name": "arrB"},
 "mark": {"type": "point", "filled": false, "color": "black", "strokeWidth": 1.4, "size": 121, "opacity": 1},
 "encoding": {
  "x": {"field": "x", "type": "quantitative", "axis": null},
  "y": {"field": "y2", "type": "quantitative", "axis": null},
  "shape": {"field": "dir", "type": "nominal", "scale": {"domain": ["down", "up"], "range": ["M-1,-1.4L0,0L1,-1.4", "M-1,1.4L0,0L1,1.4"]}, "legend": null}
 }},
{"data": {"name": "labB"},
 "mark": {"type": "text", "font": "Liberation Serif", "fontSize": 22, "align": "center", "baseline": "middle", "color": "black"},
 "encoding": {
  "x": {"field": "x", "type": "quantitative", "axis": null},
  "y": {"field": "y", "type": "quantitative", "axis": null},
  "text": {"field": "t"}
 }}
],
"resolve": {"axis": {"x": "independent", "y": "independent"}}
}
],
"spacing": 0,
"bounds": "flush",
"config": {
 "view": {"stroke": "black", "strokeWidth": 1.5},
 "font": "Liberation Sans",
 "axis": {"domainColor": "black", "domainWidth": 1.5, "tickColor": "black", "tickWidth": 1.2, "labelColor": "black", "titleColor": "black",
          "labelFont": "Liberation Sans", "titleFont": "Liberation Sans", "titleFontWeight": "normal", "grid": false}
}
}
